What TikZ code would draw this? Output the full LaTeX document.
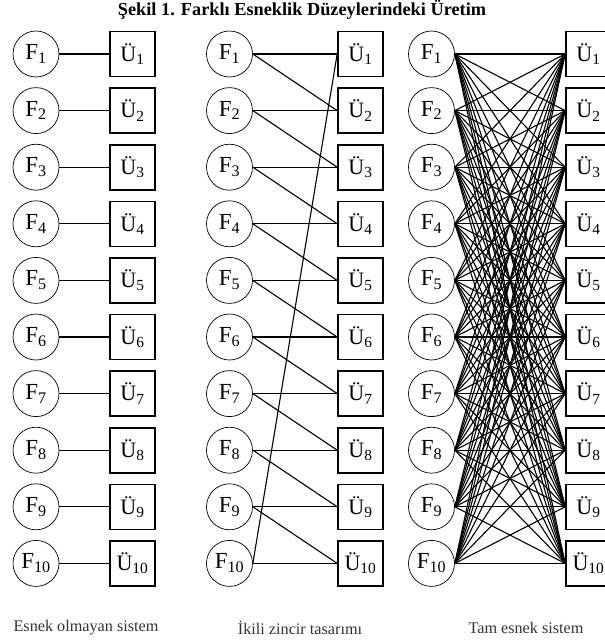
\documentclass[tikz,border=0pt]{standalone}
\usepackage{fontspec}
\setmainfont{Liberation Serif}
\usetikzlibrary{positioning}

\tikzset{
  fab/.style={draw, circle, line width=0.7pt, minimum size=46pt, inner sep=0pt,
    font=\fontsize{23}{24}\selectfont},
  urun/.style={draw, rectangle, line width=1.6pt, minimum size=45pt, inner sep=0pt,
    font=\fontsize{22}{24}\selectfont},
  bag/.style={line width=1.1pt},
  altyazi/.style={font=\fontsize{16.2}{17}\selectfont, text=black!80}
}

\begin{document}
\begin{tikzpicture}[x=1pt, y=-1pt]
  \useasboundingbox (0,0) rectangle (605,640);
  \node[font=\bfseries\fontsize{18.3}{19}\selectfont] (baslik) at (302,10)
    {Şekil 1. Farklı Esneklik Düzeylerindeki Üretim};
  % three systems: x of the plants, x of the products
  \foreach \p/\fx/\ux in {a/36/132.5, b/229.5/360.5, c/431.5/588.5} {
    \foreach \i in {1,...,10} {
      \node[fab] (\p-f\i) at (\fx, {54+56.6*(\i-1)}) {F\textsubscript{\i}};
      \node[urun] (\p-u\i) at (\ux, {54+56.6*(\i-1)}) {Ü\textsubscript{\i}};
    }
  }
  % no flexibility
  \foreach \i in {1,...,10}
    \draw[bag] (a-f\i.east) -- (a-u\i.west);
  % two chain
  \foreach \i in {1,...,10} {
    \draw[bag] (b-f\i.east) -- (b-u\i.west);
    \ifnum\i<10
      \pgfmathtruncatemacro{\j}{\i+1}
      \draw[bag] (b-f\i.east) -- (b-u\j.west);
    \fi
  }
  \draw[bag] (b-f10.east) -- (b-u1.west);
  % full flexibility
  \foreach \i in {1,...,10} \foreach \j in {1,...,10}
    \draw[bag] (c-f\i.east) -- (c-u\j.west);
  \node[altyazi] (alt-a) at (86,628) {Esnek olmayan sistem};
  \node[altyazi] (alt-b) at (300,628) {İkili zincir tasarımı};
  \node[altyazi] (alt-c) at (526,628) {Tam esnek sistem};
\end{tikzpicture}
\end{document}
